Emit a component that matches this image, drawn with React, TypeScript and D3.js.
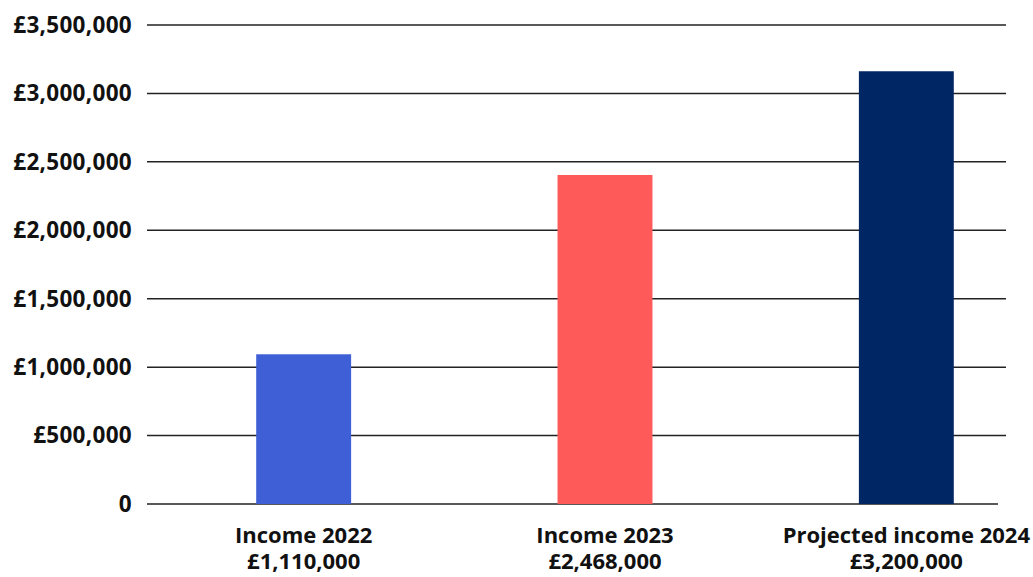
import React from "react";
import * as d3 from "d3";

const categories = ["Income 2022", "Income 2023", "Projected income 2024"];
const valueLabels = ["£1,110,000", "£2,468,000", "£3,200,000"];
const values = [1094000, 2404000, 3162000];
const colors = ["#3F5FD6", "#FF5A5A", "#002664"];
const yTicks = [0, 500000, 1000000, 1500000, 2000000, 2500000, 3000000, 3500000];

const W = 1033;
const H = 577;
const FONT = "'Open Sans', sans-serif";

export default function App() {
  const y = d3.scaleLinear().domain([0, 3500000]).range([504, 25]);
  const x = d3
    .scaleBand<string>()
    .domain(categories)
    .range([153, 1057])
    .paddingInner(0.685)
    .paddingOuter(0.3425);
  const fmt = (v: number) => (v === 0 ? "0" : "£" + d3.format(",")(v));

  return (
    <svg
      width={W}
      height={H}
      style={{ position: "absolute", left: 0, top: 0, background: "#fff" }}
    >
      {yTicks.map((t) => (
        <g key={t}>
          <line
            x1={147}
            x2={t === 0 ? 998 : 1006}
            y1={y(t)}
            y2={y(t)}
            stroke="#222"
            strokeWidth={1.5}
          />
          <text
            x={132}
            y={y(t)}
            dy="0.35em"
            textAnchor="end"
            fontFamily={FONT}
            fontWeight={700}
            fontSize={22.5}
            letterSpacing={0.3}
            fill="#111"
          >
            {fmt(t)}
          </text>
        </g>
      ))}
      {categories.map((c, i) => (
        <rect
          key={c}
          x={x(c)}
          width={x.bandwidth()}
          y={y(values[i])}
          height={y(0) - y(values[i])}
          fill={colors[i]}
        />
      ))}
      {categories.map((c, i) => (
        <text
          key={c}
          x={(x(c) as number) + x.bandwidth() / 2}
          textAnchor="middle"
          fontFamily={FONT}
          fontWeight={700}
          fontSize={22}
          fill="#111"
        >
          <tspan x={(x(c) as number) + x.bandwidth() / 2} y={543}>
            {c}
          </tspan>
          <tspan x={(x(c) as number) + x.bandwidth() / 2} y={569}>
            {valueLabels[i]}
          </tspan>
        </text>
      ))}
    </svg>
  );
}
